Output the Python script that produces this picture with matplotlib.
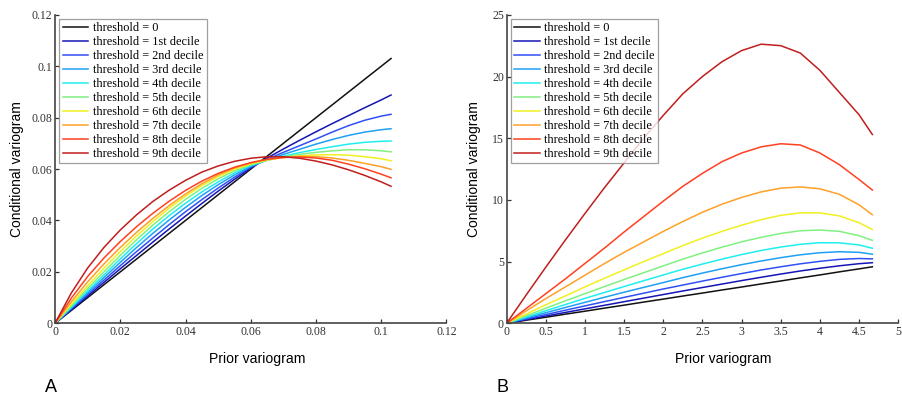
import matplotlib.pyplot as plt

labels = ["threshold = 0", "threshold = 1st decile", "threshold = 2nd decile",
          "threshold = 3rd decile", "threshold = 4th decile", "threshold = 5th decile",
          "threshold = 6th decile", "threshold = 7th decile", "threshold = 8th decile",
          "threshold = 9th decile"]
colors = ["#111111", "#1515b5", "#3050f5", "#1ea0f5", "#20eeee", "#80f080",
          "#f0f020", "#ffa028", "#ff4020", "#c01e1e"]

# panel A
xA = [0, 0.005, 0.01, 0.015, 0.02, 0.025, 0.03, 0.035, 0.04, 0.045, 0.05,
      0.055, 0.06, 0.065, 0.07, 0.075, 0.08, 0.085, 0.09, 0.095, 0.1, 0.103]
a0 = [0, 0.005, 0.01, 0.015, 0.02, 0.025, 0.03, 0.035, 0.04, 0.045, 0.05,
      0.055, 0.06, 0.065, 0.07, 0.075, 0.08, 0.085, 0.09, 0.095, 0.1, 0.103]
a1 = [0, 0.0053, 0.0106, 0.0159, 0.0212, 0.0264, 0.0316, 0.0367, 0.0417, 0.0466, 0.0514,
      0.0560, 0.0604, 0.0643, 0.0678, 0.0712, 0.0745, 0.0777, 0.0808, 0.0839, 0.0869, 0.0888]
a2 = [0, 0.0056, 0.0112, 0.0168, 0.0224, 0.0279, 0.0332, 0.0384, 0.0434, 0.0481, 0.0526,
      0.0568, 0.0607, 0.0638, 0.0665, 0.0691, 0.0717, 0.0744, 0.0769, 0.0790, 0.0806, 0.0813]
a3 = [0, 0.0060, 0.0119, 0.0178, 0.0237, 0.0295, 0.0350, 0.0402, 0.0451, 0.0497, 0.0539,
      0.0577, 0.0611, 0.0635, 0.0657, 0.0677, 0.0697, 0.0715, 0.0731, 0.0744, 0.0753, 0.0757]
a4 = [0, 0.0063, 0.0126, 0.0188, 0.0250, 0.0310, 0.0367, 0.0419, 0.0467, 0.0511, 0.0550,
      0.0585, 0.0614, 0.0634, 0.0650, 0.0664, 0.0676, 0.0687, 0.0697, 0.0704, 0.0708, 0.0709]
a5 = [0, 0.0068, 0.0135, 0.0200, 0.0264, 0.0325, 0.0382, 0.0434, 0.0482, 0.0525, 0.0562,
      0.0593, 0.0617, 0.0634, 0.0647, 0.0657, 0.0665, 0.0671, 0.0675, 0.0675, 0.0671, 0.0667]
a6 = [0, 0.0075, 0.0146, 0.0214, 0.0279, 0.0340, 0.0396, 0.0448, 0.0495, 0.0536, 0.0571,
      0.0599, 0.0620, 0.0635, 0.0645, 0.0651, 0.0655, 0.0656, 0.0654, 0.0648, 0.0640, 0.0632]
a7 = [0, 0.0084, 0.0161, 0.0231, 0.0295, 0.0354, 0.0408, 0.0458, 0.0503, 0.0543, 0.0577,
      0.0604, 0.0624, 0.0637, 0.0645, 0.0649, 0.0648, 0.0643, 0.0634, 0.0622, 0.0609, 0.0599]
a8 = [0, 0.0098, 0.0182, 0.0254, 0.0318, 0.0376, 0.0428, 0.0475, 0.0517, 0.0553, 0.0583,
      0.0607, 0.0625, 0.0638, 0.0645, 0.0647, 0.0643, 0.0634, 0.0619, 0.0601, 0.0580, 0.0566]
a9 = [0, 0.0118, 0.0215, 0.0295, 0.0363, 0.0422, 0.0474, 0.0518, 0.0556, 0.0588, 0.0612,
      0.0630, 0.0642, 0.0648, 0.0648, 0.0642, 0.0631, 0.0616, 0.0597, 0.0575, 0.0550, 0.0533]

# panel B
xB = [0, 0.25, 0.5, 0.75, 1, 1.25, 1.5, 1.75, 2, 2.25, 2.5, 2.75, 3, 3.25, 3.5, 3.75, 4, 4.25, 4.5, 4.67]
b0 = [0, 0.25, 0.49, 0.74, 0.98, 1.23, 1.47, 1.72, 1.96, 2.21, 2.45, 2.7, 2.94, 3.19, 3.43, 3.68, 3.92, 4.17, 4.41, 4.58]
b1 = [0, 0.3, 0.59, 0.88, 1.17, 1.46, 1.75, 2.04, 2.33, 2.62, 2.9, 3.18, 3.46, 3.73, 3.99, 4.24, 4.46, 4.66, 4.83, 4.91]
b2 = [0, 0.36, 0.71, 1.06, 1.41, 1.76, 2.1, 2.44, 2.78, 3.1, 3.42, 3.73, 4.03, 4.32, 4.58, 4.82, 5.02, 5.18, 5.25, 5.22]
b3 = [0, 0.43, 0.86, 1.28, 1.7, 2.11, 2.52, 2.91, 3.3, 3.7, 4.07, 4.42, 4.75, 5.05, 5.32, 5.55, 5.72, 5.8, 5.75, 5.6]
b4 = [0, 0.51, 1.02, 1.52, 2.02, 2.5, 2.98, 3.45, 3.92, 4.38, 4.8, 5.2, 5.57, 5.9, 6.18, 6.4, 6.53, 6.52, 6.35, 6.08]
b5 = [0, 0.61, 1.22, 1.82, 2.4, 2.98, 3.55, 4.1, 4.65, 5.2, 5.7, 6.17, 6.6, 6.97, 7.28, 7.5, 7.56, 7.45, 7.1, 6.72]
b6 = [0, 0.75, 1.5, 2.22, 2.95, 3.65, 4.33, 5.0, 5.65, 6.3, 6.9, 7.45, 7.95, 8.4, 8.75, 8.95, 8.95, 8.7, 8.15, 7.6]
b7 = [0, 1.0, 2.0, 2.95, 3.9, 4.85, 5.75, 6.6, 7.45, 8.25, 9.0, 9.65, 10.2, 10.65, 10.95, 11.05, 10.9, 10.45, 9.6, 8.8]
b8 = [0, 1.2, 2.4, 3.6, 4.85, 6.1, 7.4, 8.65, 9.9, 11.1, 12.15, 13.1, 13.8, 14.3, 14.55, 14.45, 13.8, 12.85, 11.65, 10.8]
b9 = [0, 2.3, 4.55, 6.75, 8.9, 11.0, 13.0, 15.0, 16.85, 18.6, 20.0, 21.2, 22.1, 22.62, 22.5, 21.9, 20.5, 18.7, 16.9, 15.3]

ticksA = [0, 0.02, 0.04, 0.06, 0.08, 0.1, 0.12]
tickA_labels = ["0", "0.02", "0.04", "0.06", "0.08", "0.1", "0.12"]
xticksB = [0, 0.5, 1, 1.5, 2, 2.5, 3, 3.5, 4, 4.5, 5]
xtickB_labels = ["0", "0.5", "1", "1.5", "2", "2.5", "3", "3.5", "4", "4.5", "5"]
yticksB = [0, 5, 10, 15, 20, 25]
ytickB_labels = ["0", "5", "10", "15", "20", "25"]

serif = "Liberation Serif"
sans = "Liberation Sans"


def panel(ax, x, ys, xt, xtl, yt, ytl, letter, xlab_x, ylab_pad):
    for y, c, l in zip(ys, colors, labels):
        ax.plot(x, y, color=c, lw=1.1, label=l)
    ax.set_xlim(xt[0], xt[-1])
    ax.set_ylim(yt[0], yt[-1])
    ax.set_xticks(xt)
    ax.set_xticklabels(xtl, family=serif, fontsize=8.5, color="#333333")
    ax.set_yticks(yt)
    ax.set_yticklabels(ytl, family=serif, fontsize=8.5, color="#333333")
    ax.tick_params(direction="in", length=3, width=0.9, color="#333333", pad=2)
    for s in ["top", "right"]:
        ax.spines[s].set_visible(False)
    for s in ["left", "bottom"]:
        ax.spines[s].set_linewidth(1.2)
        ax.spines[s].set_color("#444444")
    ax.set_xlabel("Prior variogram", family=sans, fontsize=10.1)
    ax.xaxis.set_label_coords(xlab_x, -0.093)
    ax.set_ylabel("Conditional variogram", family=sans, fontsize=10, labelpad=ylab_pad)
    leg = ax.legend(loc="upper left", bbox_to_anchor=(0.01, 0.988), prop={"family": serif, "size": 8.8},
                    frameon=True, fancybox=False, edgecolor="#888888", handlelength=2.1,
                    handletextpad=0.35, labelspacing=0.16, borderpad=0.3, borderaxespad=0)
    leg.get_frame().set_linewidth(0.9)
    ax.text(-0.026, -0.2226, letter, transform=ax.transAxes, family=sans, fontsize=13, va="baseline")


fig = plt.figure(figsize=(9.02, 3.96), dpi=100)
axA = fig.add_axes([0.061, 0.1836, 0.434, 0.779])
axB = fig.add_axes([0.5617, 0.1836, 0.4341, 0.779])

panel(axA, xA, [a0, a1, a2, a3, a4, a5, a6, a7, a8, a9], ticksA, tickA_labels,
      ticksA, tickA_labels, "A", 0.516, 5.5)
panel(axB, xB, [b0, b1, b2, b3, b4, b5, b6, b7, b8, b9], xticksB, xtickB_labels,
      yticksB, ytickB_labels, "B", 0.554, 7.6)

fig.savefig("out.png", dpi=100)
